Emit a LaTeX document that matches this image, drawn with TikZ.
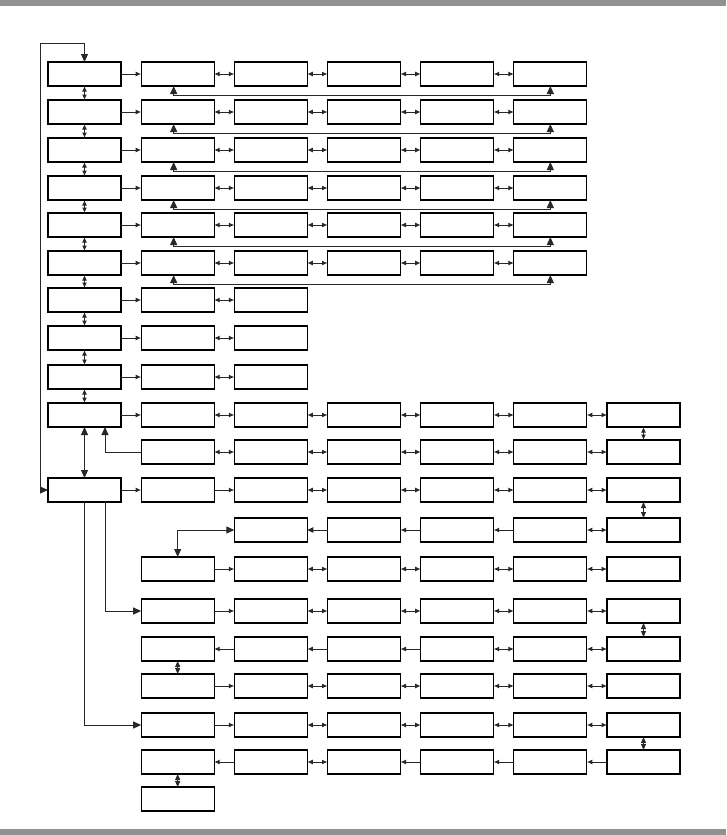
\documentclass[tikz,border=0pt]{standalone}
\usetikzlibrary{arrows.meta}
\definecolor{barg}{RGB}{145,145,145}
\definecolor{lnk}{RGB}{40,40,40}
\begin{document}
\begin{tikzpicture}[x=1pt,y=-1pt,
  box/.style={draw=black,line width=1.1pt,minimum width=73pt,minimum height=24pt,inner sep=0pt,outer sep=0pt},
  link/.style={draw=lnk,line width=1pt},
  sm/.style={link,-{Latex[length=5.5pt,width=5pt]}},
  smd/.style={link,{Latex[length=5.5pt,width=5pt]}-{Latex[length=5.5pt,width=5pt]}},
  bg/.style={link,-{Triangle[length=8pt,width=7pt]}},
  bgd/.style={link,{Triangle[length=8pt,width=7pt]}-{Triangle[length=8pt,width=7pt]}},
  md/.style={link,{Triangle[length=6pt,width=5pt]}-{Triangle[length=6pt,width=5pt]}},
  ms/.style={link,-{Triangle[length=6pt,width=5.5pt]}}
]
\useasboundingbox (0,0) rectangle (726,835);
\fill[barg] (0,0) rectangle (726,6);
\fill[barg] (0,829) rectangle (726,835);

% boxes
\foreach \r/\t in {1/62,2/100,3/138,4/176,5/213,6/251}
  \foreach \c in {0,...,5}
    \node[box] (r\r-\c) at ({84.5+93.1667*\c},\t+12) {};
\foreach \r/\t in {7/288,8/326,9/365}
  \foreach \c in {0,...,2}
    \node[box] (r\r-\c) at ({84.5+93.1667*\c},\t+12) {};
\foreach \r/\t in {10/403,12/478}
  \foreach \c in {0,...,6}
    \node[box] (r\r-\c) at ({84.5+93.1667*\c},\t+12) {};
\foreach \r/\t in {11/440,14/557,15/599,16/637,17/674,18/713,19/750}
  \foreach \c in {1,...,6}
    \node[box] (r\r-\c) at ({84.5+93.1667*\c},\t+12) {};
\foreach \c in {2,...,6}
  \node[box] (r13-\c) at ({84.5+93.1667*\c},530) {};
\node[box] (r20-1) at ({84.5+93.1667},799) {};

% rows 1-6
\foreach \r in {1,...,6}{
  \draw[sm] (r\r-0) -- (r\r-1);
  \foreach \c/\d in {1/2,2/3,3/4,4/5}
    \draw[smd] (r\r-\c) -- (r\r-\d);
  \draw[bgd] ([xshift=-4pt]r\r-1.south) -- ++(0,9) -| (r\r-5.south);
}
% column 0 vertical links
\foreach \r/\d in {1/2,2/3,3/4,4/5,5/6,6/7,7/8,8/9,9/10}
  \draw[smd] (r\r-0) -- (r\d-0);
% rows 7-9
\foreach \r in {7,8,9}{
  \draw[sm] (r\r-0) -- (r\r-1);
  \draw[smd] (r\r-1) -- (r\r-2);
}
% row 10
\draw[sm] (r10-0) -- (r10-1);
\foreach \c/\d in {1/2,2/3,3/4,4/5,5/6}
  \draw[smd] (r10-\c) -- (r10-\d);
\draw[smd] (r10-6) -- (r11-6);
% row 11
\foreach \c/\d in {1/2,2/3,3/4,4/5,5/6}
  \draw[smd] (r11-\c) -- (r11-\d);
\coordinate (k10) at ([xshift=20.5pt]r10-0.south);
\draw[bg] (r11-1.west) -| (k10);
\draw[bgd] (r10-0) -- (r12-0);
% row 12
\draw[sm] (r12-0) -- (r12-1);
\draw[sm] (r12-1) -- (r12-2);
\foreach \c/\d in {2/3,3/4,4/5,5/6}
  \draw[smd] (r12-\c) -- (r12-\d);
\draw[md] (r12-6) -- (r13-6);
% main loop
\coordinate (lp) at (40,43);
\draw[bgd] (r12-0.west) -| (lp) -| (r1-0.north);
% row 13
\draw[ms] (r13-3) -- (r13-2);
\draw[sm] (r13-4) -- (r13-3);
\draw[sm] (r13-5) -- (r13-4);
\draw[smd] (r13-5) -- (r13-6);
\draw[bgd] (r13-2.west) -| (r14-1.north);
% row 14
\draw[sm] (r14-1) -- (r14-2);
\foreach \c/\d in {2/3,3/4,4/5,5/6}
  \draw[smd] (r14-\c) -- (r14-\d);
% row 15
\coordinate (k12) at ([xshift=20.5pt]r12-0.south);
\draw[bg] (k12) |- (r15-1.west);
\draw[sm] (r15-1) -- (r15-2);
\foreach \c/\d in {2/3,3/4,4/5,5/6}
  \draw[smd] (r15-\c) -- (r15-\d);
\draw[md] (r15-6) -- (r16-6);
% row 16
\draw[sm] (r16-2) -- (r16-1);
\draw[sm] (r16-3) -- (r16-2);
\draw[sm] (r16-4) -- (r16-3);
\draw[smd] (r16-4) -- (r16-5);
\draw[smd] (r16-5) -- (r16-6);
\draw[md] (r16-1) -- (r17-1);
% row 17
\draw[sm] (r17-1) -- (r17-2);
\foreach \c/\d in {2/3,3/4,4/5,5/6}
  \draw[smd] (r17-\c) -- (r17-\d);
% row 18
\draw[bg] (r12-0.south) |- (r18-1.west);
\draw[sm] (r18-1) -- (r18-2);
\foreach \c/\d in {2/3,3/4,4/5,5/6}
  \draw[smd] (r18-\c) -- (r18-\d);
\draw[md] (r18-6) -- (r19-6);
% row 19
\draw[sm] (r19-2) -- (r19-1);
\draw[smd] (r19-2) -- (r19-3);
\draw[sm] (r19-4) -- (r19-3);
\draw[sm] (r19-5) -- (r19-4);
\draw[sm] (r19-6) -- (r19-5);
\draw[md] (r19-1) -- (r20-1);
\end{tikzpicture}
\end{document}
